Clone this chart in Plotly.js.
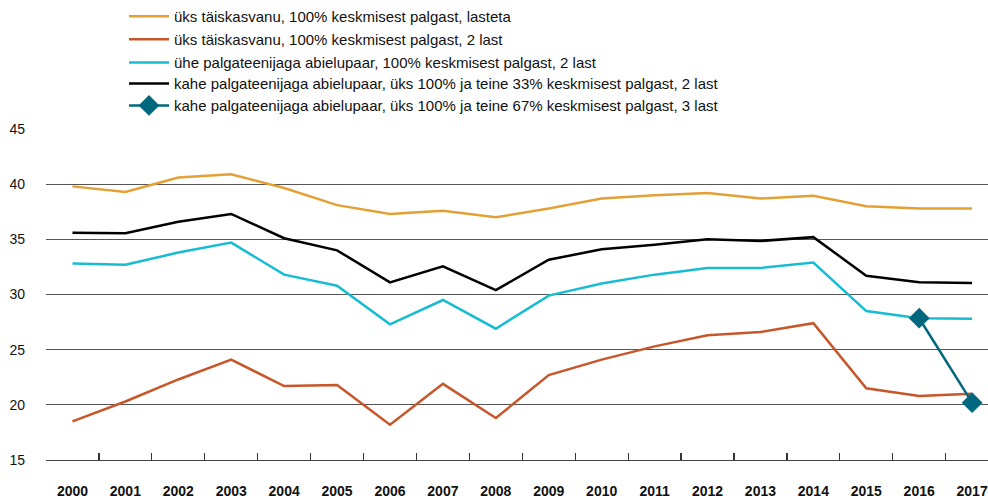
<!DOCTYPE html>
<html>
<head>
<meta charset="utf-8">
<script src="https://cdn.plot.ly/plotly-3.0.1.min.js"></script>
<style>html,body{margin:0;padding:0;background:#fff;}#chart{width:988px;height:501px;}</style>
</head>
<body>
<div id="chart"></div>
<script>
const years = ["2000","2001","2002","2003","2004","2005","2006","2007","2008","2009","2010","2011","2012","2013","2014","2015","2016","2017"];
const adultNoKids = [39.8,39.3,40.6,40.9,39.65,38.1,37.3,37.6,37.0,37.8,38.7,39.0,39.2,38.7,38.95,38.0,37.8,37.8];
const adultTwoKids = [18.5,20.3,22.3,24.1,21.7,21.8,18.2,21.9,18.8,22.7,24.1,25.3,26.3,26.6,27.4,21.5,20.8,21.0];
const oneEarnerCouple = [32.8,32.7,33.8,34.7,31.8,30.8,27.3,29.5,26.9,29.9,31.0,31.8,32.4,32.4,32.9,28.5,27.85,27.8];
const twoEarner33 = [35.6,35.55,36.6,37.3,35.1,34.0,31.1,32.55,30.4,33.15,34.1,34.5,35.0,34.85,35.2,31.7,31.1,31.05];
const twoEarner67Years = ["2016","2017"];
const twoEarner67 = [27.85,20.2];
const names = [
  "üks täiskasvanu, 100% keskmisest palgast, lasteta",
  "üks täiskasvanu, 100% keskmisest palgast, 2 last",
  "ühe palgateenijaga abielupaar, 100% keskmisest palgast, 2 last",
  "kahe palgateenijaga abielupaar, üks 100% ja teine 33% keskmisest palgast, 2 last",
  "kahe palgateenijaga abielupaar, üks 100% ja teine 67% keskmisest palgast, 3 last"
];
const colors = ["#E3A035","#C8562B","#17BCD3","#000000","#00687E"];
const FONT = "Liberation Sans, Arial, Helvetica, sans-serif";

const traces = [
  {x: years, y: adultNoKids, name: names[0], mode: "lines", line: {color: colors[0], width: 2.5}, legend: "legend"},
  {x: years, y: adultTwoKids, name: names[1], mode: "lines", line: {color: colors[1], width: 2.5}, legend: "legend2"},
  {x: years, y: oneEarnerCouple, name: names[2], mode: "lines", line: {color: colors[2], width: 2.5}, legend: "legend3"},
  {x: years, y: twoEarner33, name: names[3], mode: "lines", line: {color: colors[3], width: 2.5}, legend: "legend4"},
  {x: twoEarner67Years, y: twoEarner67, name: names[4], mode: "lines+markers", line: {color: colors[4], width: 2.5},
   marker: {symbol: "diamond", size: 16, color: colors[4]}, legend: "legend5"}
];

const legendYs = [17, 40, 63, 84, 106];
const plotTop = 129.3, plotBottom = 460;
function legendCfg(py){
  return {x: 0.0828, xanchor: "left", y: (plotBottom - py)/(plotBottom - plotTop), yanchor: "middle",
    itemwidth: 40,
    bgcolor: "rgba(0,0,0,0)", borderwidth: 0, font: {family: FONT, size: 15, color: "#111"}};
}

const layout = {
  width: 988, height: 501,
  margin: {l: 46, r: 0, t: 129.3, b: 41},
  paper_bgcolor: "#fff", plot_bgcolor: "#fff",
  font: {family: FONT, color: "#111"},
  showlegend: true,
  legend: legendCfg(legendYs[0]),
  legend2: legendCfg(legendYs[1]),
  legend3: legendCfg(legendYs[2]),
  legend4: legendCfg(legendYs[3]),
  legend5: legendCfg(legendYs[4]),
  xaxis: {
    type: "category", range: [-0.5, 17.3], tickson: "boundaries",
    ticks: "inside", ticklen: 7, tickcolor: "#333", tickwidth: 1.2,
    showline: true, linecolor: "#444", linewidth: 1.2,
    showgrid: false, zeroline: false,
    tickfont: {family: FONT, size: 14, color: "#111", weight: "bold"},
    ticklabelstandoff: 18, fixedrange: true
  },
  yaxis: {
    range: [15, 45], tickvals: [15,20,25,30,35,40,45], ticks: "",
    showgrid: true, gridcolor: "#555", gridwidth: 1.2,
    zeroline: false, showline: false,
    tickfont: {family: FONT, size: 14, color: "#111"},
    ticklabelstandoff: 20, fixedrange: true
  }
};

Plotly.newPlot("chart", traces, layout, {displayModeBar: false, staticPlot: true});
</script>
</body>
</html>
